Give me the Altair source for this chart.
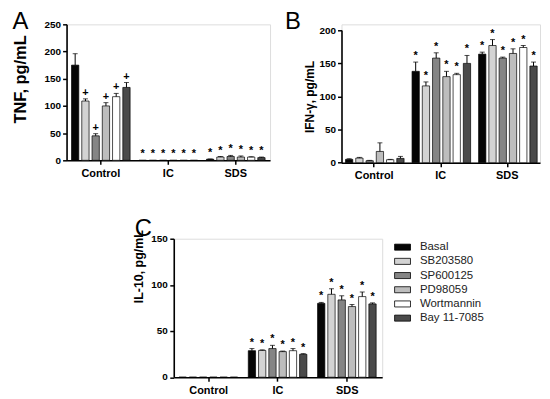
import altair as alt
import pandas as pd

FONT = "Liberation Sans"

groups = ["Control", "IC", "SDS"]
series = ["Basal", "SB203580", "SP600125", "PD98059", "Wortmannin", "Bay 11-7085"]
fills = ["#050505", "#d3d3d3", "#858585", "#bdbdbd", "#ffffff", "#4a4a4a"]

# Panel A: TNF (Control, IC, SDS; six treatments each)
tnf_mean = [175, 109, 45, 100, 117, 134, 0, 0, 0, 0, 0, 0, 2, 6, 7, 6, 6, 5]
tnf_sem = [21, 4, 4, 6, 6, 9, 0, 0, 0, 0, 0, 0, 0.5, 1, 2, 2, 0.5, 1]
tnf_sig = ["", "+", "+", "+", "+", "+"] + ["*"] * 12
tnf_ticks = [0, 50, 100, 150, 200, 250]

# Panel B: IFN-gamma
ifn_mean = [5, 7, 3, 17, 4.5, 6.5, 138, 116, 158, 130, 133, 150, 164, 177, 158, 165, 174, 146]
ifn_sem = [1, 1, 0.5, 13, 0.5, 3, 14, 6, 8, 8, 2, 12, 3, 9, 1.5, 7, 3, 6]
ifn_sig = [""] * 6 + ["*"] * 12
ifn_ticks = [0, 50, 100, 150, 200]

# Panel C: IL-10
il10_mean = [0, 0, 0, 0, 0, 0, 28.7, 29, 31, 27.7, 28.7, 24.8, 80, 89.8, 83.7, 76.5, 87.3, 79.4]
il10_sem = [0, 0, 0, 0, 0, 0, 2.3, 0.6, 3.5, 0.6, 2.3, 0.7, 1, 6, 4.5, 2.2, 5, 1.1]
il10_sig = [""] * 6 + ["*"] * 12
il10_ticks = [0, 50, 100, 150]


def table(means, sems, sigs):
    rows = []
    i = 0
    for g in groups:
        for s in series:
            rows.append({"group": g, "series": s, "mean": means[i],
                         "hi": means[i] + sems[i], "sem": sems[i], "sig": sigs[i]})
            i += 1
    return pd.DataFrame(rows)


def frame_box(x0, x1, y0, y1):
    # invisible rectangle that only fixes the layout bounds of a panel
    return alt.Chart(pd.DataFrame({"t": [0]})).mark_rect(
        opacity=0, fillOpacity=0, strokeOpacity=0).encode(
        x=alt.value(x0), x2=alt.value(x1), y=alt.value(y0), y2=alt.value(y1))


def panel(df, ticks, ytitle, ytop, width, height, pin, pout, letter, letter_xy,
          title_size, title_xy, frame, legend=None, dash=None, own_labels=False):
    xscale = alt.Scale(domain=groups, paddingInner=pin, paddingOuter=pout)
    base = alt.Chart(df).encode(
        x=alt.X("group:N", sort=groups, scale=xscale, title=None,
                axis=alt.Axis(labelAngle=0, labelFont=FONT, labelFontWeight="bold",
                              labelFontSize=11, labelColor="black", labelPadding=3,
                              tickSize=4, tickWidth=1.5, tickColor="black",
                              domainColor="black", domainWidth=1.6)),
        xOffset=alt.XOffset("series:N", sort=series,
                            scale=alt.Scale(domain=series, paddingInner=0.29, paddingOuter=0)),
    )
    yscale = alt.Scale(domain=[0, ytop], nice=False, zero=True)
    ax_kw = dict(values=ticks,
                 grid=False, labelOverlap=False,
                 labelFont=FONT, labelFontWeight="bold", labelFontSize=10,
                 labelColor="black", labelPadding=2, tickSize=4, tickWidth=1.5,
                 tickColor="black", domainColor="black", domainWidth=1.6,
                 titleFont=FONT, titleFontWeight="bold", titleFontSize=title_size,
                 titleColor="black", titleAngle=270, titleAlign="center",
                 titleBaseline="middle", titleX=title_xy[0], titleY=title_xy[1])
    if dash is not None:
        ax_kw["domainDash"] = dash
    if own_labels:
        ax_kw["labels"] = False
    yaxis = alt.Axis(**ax_kw)
    bars = base.mark_bar(stroke="black", strokeWidth=0.7).encode(
        y=alt.Y("mean:Q", scale=yscale, axis=yaxis, title=ytitle),
        fill=alt.Fill("series:N", sort=series,
                      scale=alt.Scale(domain=series, range=fills),
                      legend=legend if legend is not None else None),
    )
    eb = base.transform_filter("datum.sem > 0")
    err = eb.mark_rule(color="black", strokeWidth=1).encode(
        y=alt.Y("mean:Q", scale=yscale, axis=yaxis, title=ytitle), y2="hi:Q")
    cap = eb.mark_tick(orient="horizontal", size=5, thickness=1, color="black").encode(
        y=alt.Y("hi:Q", scale=yscale, axis=yaxis, title=ytitle))
    sig = base.mark_text(font=FONT, fontWeight="bold", fontSize=11, color="black",
                         baseline="alphabetic", dy=-3).encode(
        y=alt.Y("hi:Q", scale=yscale, axis=yaxis, title=ytitle), text="sig:N")
    let = alt.Chart(pd.DataFrame({"t": [letter]})).mark_text(
        font=FONT, fontSize=24, color="black", align="left", baseline="top"
    ).encode(text="t:N", x=alt.value(letter_xy[0]), y=alt.value(letter_xy[1]))
    box = frame_box(*frame)
    layers = [box, bars, err, cap, sig, let]
    if own_labels:
        # tick labels of the y axis, placed through the same y scale
        lab = alt.Chart(pd.DataFrame({"v": ticks})).mark_text(
            font=FONT, fontWeight="bold", fontSize=10, color="black",
            align="right", baseline="middle"
        ).encode(y=alt.Y("v:Q", scale=yscale, axis=yaxis, title=ytitle),
                 x=alt.value(-6), text=alt.Text("v:Q"))
        layers.append(lab)
    return alt.layer(*layers).properties(width=width, height=height)


chart_a = panel(table(tnf_mean, tnf_sem, tnf_sig), tnf_ticks, "TNF, pg/mL", 250, 205, 137,
                0.132, 0.0735, "A", (-54.5, -14.3), 16.5, (-46, 55),
                (-58, 207, -14.3, 160))
chart_b = panel(table(ifn_mean, ifn_sem, ifn_sig), ifn_ticks, "IFN-\u03b3, pg/mL", 209, 200, 139.4,
                0.137, 0.06, "B", (-56.8, -14.1), 12, (-32.5, 72.7),
                (-63, 201, -14.3, 160), dash=[133.8, 40])
legend = alt.Legend(title=None, orient="none", legendX=222, legendY=0,
                    symbolType="M-1,-0.38H1V0.38H-1Z", symbolSize=256,
                    symbolStrokeColor="black", symbolStrokeWidth=0.8, symbolOpacity=1,
                    labelFont=FONT, labelFontSize=11.5, labelColor="#222",
                    labelOffset=9, rowPadding=0.3)
chart_c = panel(table(il10_mean, il10_sem, il10_sig), il10_ticks, "IL-10, pg/mL", 150, 210, 139.5,
                0.143, 0.076, "C", (-39.2, -21.4), 12.5, (-35, 27.7),
                (-50, 0, -50, 0), legend=legend, own_labels=True)

lead = frame_box(0, 10, 0, 1).properties(
    width=10, height=1,
    view=alt.ViewBackground(opacity=0, fillOpacity=0, strokeOpacity=0, strokeWidth=0))

top = alt.hconcat(chart_a, chart_b, spacing=5).resolve_scale(
    fill="independent").resolve_legend(fill="independent")
bottom = alt.hconcat(lead, chart_c, spacing=47).resolve_scale(
    fill="independent").resolve_legend(fill="independent")
chart = alt.vconcat(top, bottom, spacing=4).resolve_scale(
    fill="independent").resolve_legend(fill="independent")
chart = (chart.properties(padding=0)
         .configure_view(stroke="transparent")
         .configure_axis(labelOverlap=False)
         .configure_axisY(labelOverlap=False)
         .configure_axisQuantitative(labelOverlap=False)
         .configure(background="white"))

chart.save("out.html", embed_options={"renderer": "svg", "actions": False})
